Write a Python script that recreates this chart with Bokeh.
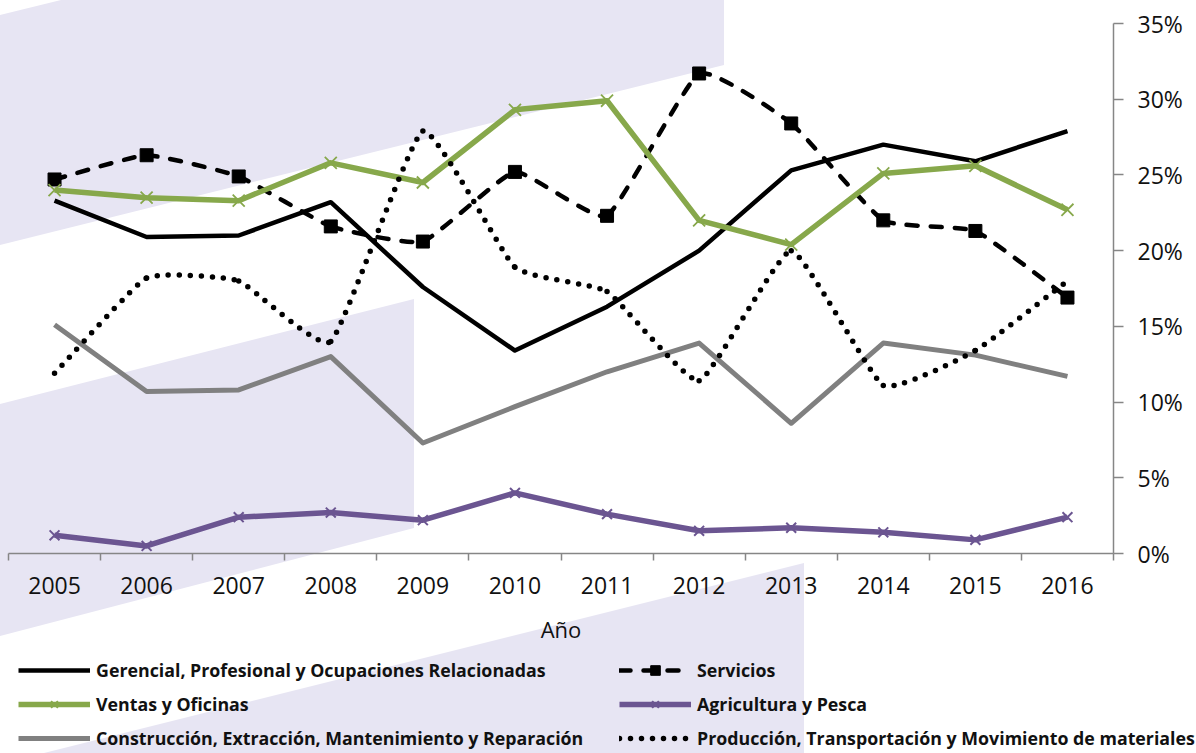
import numpy as np
from urllib.parse import quote
from bokeh.plotting import figure
from bokeh.layouts import column
from bokeh.models import (Range1d, FixedTicker, PrintfTickFormatter, Legend, LegendItem,
                          ColumnDataSource)
from bokeh.embed import file_html
from bokeh.resources import INLINE

# ---------------- data ----------------
years = ["2005", "2006", "2007", "2008", "2009", "2010",
         "2011", "2012", "2013", "2014", "2015", "2016"]
gerencial = [23.3, 20.9, 21.0, 23.2, 17.6, 13.4, 16.3, 20.0, 25.3, 27.0, 25.9, 27.9]
servicios = [24.7, 26.3, 24.9, 21.6, 20.6, 25.2, 22.3, 31.7, 28.4, 22.0, 21.3, 16.9]
ventas = [24.0, 23.5, 23.3, 25.8, 24.5, 29.3, 29.9, 22.0, 20.4, 25.1, 25.6, 22.7]
agricultura = [1.2, 0.5, 2.4, 2.7, 2.2, 4.0, 2.6, 1.5, 1.7, 1.4, 0.9, 2.4]
construccion = [15.1, 10.7, 10.8, 13.0, 7.3, 9.7, 12.0, 13.9, 8.6, 13.9, 13.1, 11.7]
produccion = [11.9, 18.2, 18.0, 14.0, 27.9, 18.9, 17.3, 11.4, 20.0, 11.1, 13.4, 18.0]
y_ticks = [0, 5, 10, 15, 20, 25, 30, 35]

labels = {
    "ger": "Gerencial, Profesional y Ocupaciones Relacionadas",
    "ser": "Servicios",
    "ven": "Ventas y Oficinas",
    "agr": "Agricultura y Pesca",
    "con": "Construcción, Extracción, Mantenimiento y Reparación",
    "pro": "Producción, Transportación y Movimiento de materiales",
}

GREEN = "#87A84B"
PURPLE = "#6B5591"
GRAY = "#808080"
AXIS = "#868686"
BAND = "#E7E5F3"
FONT = "Open Sans"
W, H = 1196, 753
H_CHART = 650

# decorative background bands (page pixel coordinates)
bands = [
    "0,15 61,0 724,0 724,65 0,245",
    "0,404 414,299 414,528 0,636",
    "0,764 804,563 804,753 0,753",
]
svg_bg = ("<svg xmlns='http://www.w3.org/2000/svg' width='%d' height='%d'>" % (W, H)
          + "".join("<polygon points='%s' fill='%s'/>" % (pts, BAND) for pts in bands)
          + "</svg>")

n = len(years)
xpos = [i + 0.5 for i in range(n)]
TENSION = 0.4


def smooth_source(xs, ys):
    xs = np.asarray(xs, float)
    ys = np.asarray(ys, float)
    mx = np.empty(len(xs))
    my = np.empty(len(ys))
    mx[1:-1] = (xs[2:] - xs[:-2]) / 2
    my[1:-1] = (ys[2:] - ys[:-2]) / 2
    mx[0], my[0] = xs[1] - xs[0], ys[1] - ys[0]
    mx[-1], my[-1] = xs[-1] - xs[-2], ys[-1] - ys[-2]
    k = TENSION / 3
    return ColumnDataSource(dict(
        x0=xs[:-1], y0=ys[:-1], x1=xs[1:], y1=ys[1:],
        cx0=xs[:-1] + mx[:-1] * k, cy0=ys[:-1] + my[:-1] * k,
        cx1=xs[1:] - mx[1:] * k, cy1=ys[1:] - my[1:] * k))


def draw_series(fig):
    r = {}
    r["ger"] = [fig.line(xpos, gerencial, line_color="black", line_width=4.5, line_join="round")]
    r["ser"] = [
        fig.bezier(x0="x0", y0="y0", x1="x1", y1="y1", cx0="cx0", cy0="cy0", cx1="cx1", cy1="cy1",
                   source=smooth_source(xpos, servicios), line_color="black", line_width=4.5,
                   line_dash="11 13", line_cap="round"),
        fig.scatter(xpos, servicios, marker="square", size=13, fill_color="black", line_color="black")]
    r["ven"] = [fig.line(xpos, ventas, line_color=GREEN, line_width=5.5, line_join="round"),
                fig.scatter(xpos, ventas, marker="x", size=17, line_color=GREEN, line_width=1.8)]
    r["agr"] = [fig.line(xpos, agricultura, line_color=PURPLE, line_width=5.5, line_join="round"),
                fig.scatter(xpos, agricultura, marker="x", size=14, line_color=PURPLE, line_width=2)]
    r["con"] = [fig.line(xpos, construccion, line_color=GRAY, line_width=5, line_join="round")]
    r["pro"] = [
        fig.bezier(x0="x0", y0="y0", x1="x1", y1="y1", cx0="cx0", cy0="cy0", cx1="cx1", cy1="cy1",
                   source=smooth_source(xpos, produccion), line_color="black", line_width=5.5,
                   line_dash="0 11", line_cap="round")]
    return r


# ---------------- chart ----------------
p = figure(width=W, height=H_CHART, x_range=Range1d(0, n), y_range=Range1d(0, 35),
           y_axis_location="right", output_backend="svg", toolbar_location=None,
           min_border_left=8, min_border_right=83, min_border_top=23, min_border_bottom=97)
p.outline_line_color = None
p.xgrid.visible = False
p.ygrid.visible = False
p.background_fill_color = None
p.border_fill_color = None

xax = p.xaxis[0]
xax.ticker = FixedTicker(ticks=xpos, minor_ticks=list(range(n + 1)))
xax.major_label_overrides = {xpos[i]: years[i] for i in range(n)}
xax.major_tick_line_color = None
xax.minor_tick_line_color = AXIS
xax.minor_tick_line_width = 1.5
xax.minor_tick_in = 0
xax.minor_tick_out = 7
xax.axis_line_color = AXIS
xax.axis_line_width = 1.5
xax.major_label_text_font = FONT
xax.major_label_text_font_size = "23px"
xax.major_label_text_color = "#111111"
xax.major_label_standoff = 16
xax.axis_label = "Año"
xax.axis_label_text_font = FONT
xax.axis_label_text_font_size = "22px"
xax.axis_label_text_font_style = "normal"
xax.axis_label_text_color = "#111111"
xax.axis_label_standoff = 17

yax = p.yaxis[0]
yax.ticker = FixedTicker(ticks=y_ticks)
yax.formatter = PrintfTickFormatter(format="%d%%")
yax.major_tick_in = 0
yax.major_tick_out = 10
yax.major_tick_line_color = AXIS
yax.major_tick_line_width = 1.5
yax.minor_tick_line_color = None
yax.axis_line_color = AXIS
yax.axis_line_width = 1.5
yax.major_label_text_font = FONT
yax.major_label_text_font_size = "23px"
yax.major_label_text_color = "#111111"
yax.major_label_standoff = 14

draw_series(p)

# ---------------- legend strip (same series, drawn out of view) ----------------
q = figure(width=W, height=H - H_CHART, x_range=Range1d(0, n), y_range=Range1d(-200, -199),
           x_axis_location=None, y_axis_location=None, output_backend="svg",
           toolbar_location=None, min_border=0)
q.outline_line_color = None
q.xgrid.visible = False
q.ygrid.visible = False
q.background_fill_color = None
q.border_fill_color = None
rq = draw_series(q)

legend_x = 10
try:
    q.frame_align = False
    p.frame_align = False
    legend_x = 18
except AttributeError:
    pass

order = ["ger", "ven", "con", "ser", "agr", "pro"]
legend = Legend(items=[LegendItem(label=labels[k], renderers=rq[k]) for k in order],
                location=(legend_x, 3), orientation="vertical", nrows=3,
                glyph_width=72, glyph_height=24, spacing=10, label_standoff=6,
                label_width=513, label_height=24, padding=0, margin=0,
                border_line_color=None, background_fill_alpha=0,
                label_text_font=FONT, label_text_font_style="bold",
                label_text_font_size="17.8px", label_text_color="#111111")
q.add_layout(legend)

page = column(p, q, spacing=0)
page.styles = {
    "background-color": "white",
    "background-image": 'url("data:image/svg+xml,%s")' % quote(svg_bg),
    "background-repeat": "no-repeat",
}

open("out.html", "w").write(file_html(page, INLINE))
